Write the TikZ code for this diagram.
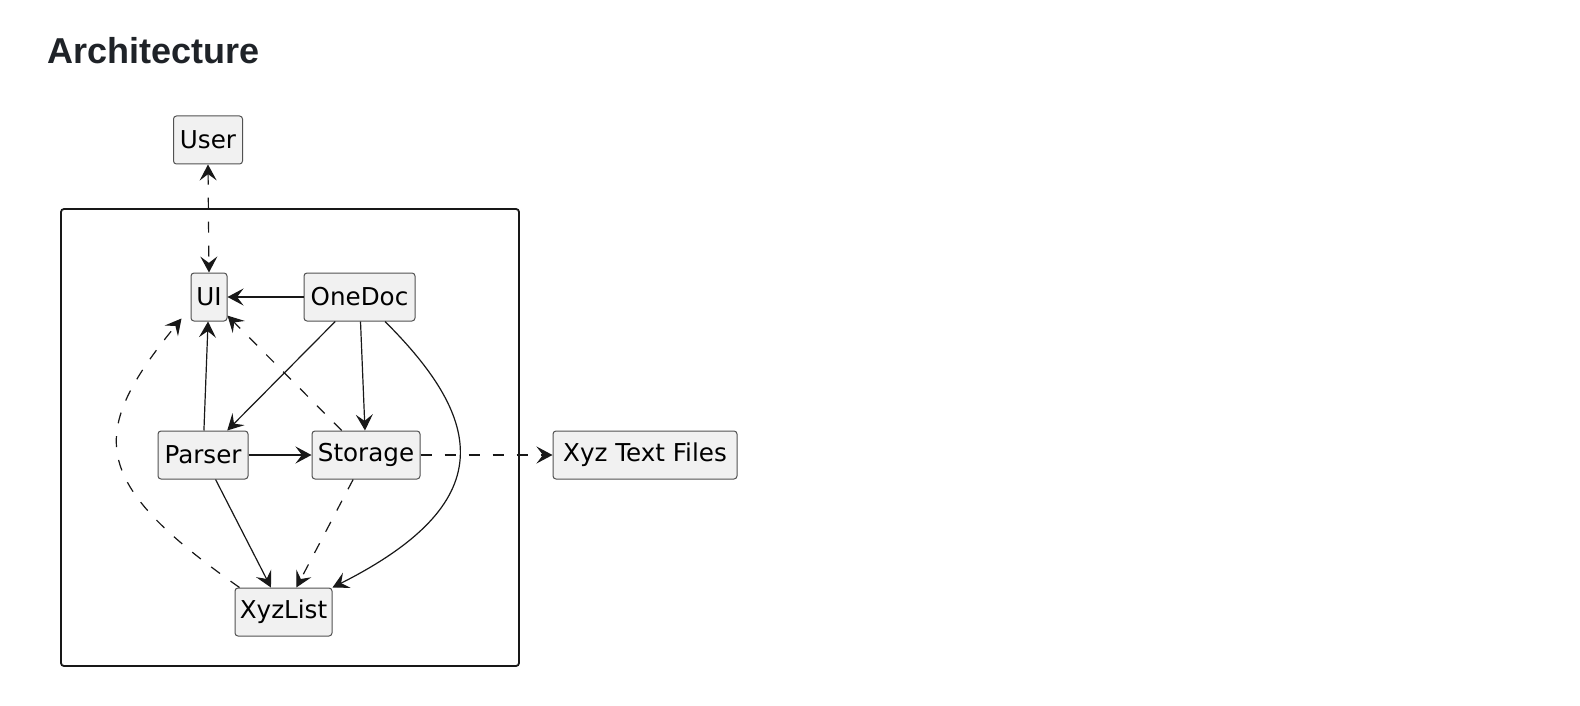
\documentclass[tikz,border=0pt]{standalone}
\usepackage{fontspec}
\setmainfont{Liberation Sans}
\newfontfamily\boxfont{DejaVu Sans}
\usepackage{xcolor}
\usepackage{tikz}
\usetikzlibrary{arrows.meta,positioning,calc}

\definecolor{boxgray}{HTML}{F1F1F1}
\definecolor{linegray}{HTML}{181818}
\definecolor{titleink}{HTML}{1F2328}

\begin{document}
\begin{tikzpicture}[
    x=0.5pt, y=-0.5pt,
    every node/.style = {inner sep=0pt},
    box/.style = {draw=linegray!75, fill=boxgray, line width=0.5pt, rounded corners=1.5pt,
      minimum height=24pt, font=\boxfont\fontsize{12.3pt}{14pt}\selectfont},
    >={Stealth[length=8pt, width=8.5pt, inset=3.2pt]},
    dep/.style = {->, draw=linegray, line width=0.6pt},
    weak/.style = {dep, dash pattern=on 5.5pt off 6.5pt}
  ]
  \fill[white] (0,0) rectangle (1580,706);
  \useasboundingbox (0,0) rectangle (1580,706);

  % title
  \node[anchor=base west, text=titleink, font=\bfseries\fontsize{18pt}{22pt}\selectfont]
    (title) at (47,64) {Architecture};

  % frame
  \draw[linegray, line width=0.9pt, rounded corners=1.5pt] (61,209) rectangle (519,666);

  % components
  \node[box, minimum width=34.5pt] (user) at (208,140) {User};
  \node[box, minimum width=18pt] (ui) at (209,297) {UI};
  \node[box, minimum width=55.5pt] (onedoc) at (359.5,297) {OneDoc};
  \node[box, minimum width=45pt] (parser) at (203,455) {Parser};
  \node[box, minimum width=54pt] (storage) at (366,455) {Storage};
  \node[box, minimum width=48.5pt] (xyzlist) at (283.5,612) {XyzList};
  \node[box, minimum width=92pt] (files) at (645,455) {Xyz Text Files};

  % solid dependencies
  \draw[dep] (onedoc) -- (ui);
  \draw[dep] (onedoc) -- (parser);
  \draw[dep] (onedoc) -- (storage);
  \draw[dep] (parser) -- (ui);
  \draw[dep] (parser) -- (storage);
  \draw[dep] (parser) -- (xyzlist);
  \draw[dep] ($(onedoc.south)+(25.5,0)$) .. controls (485,421) and (500,503) .. (xyzlist.north east);

  % dashed dependencies
  \draw[weak, <->] (user.south) -- (ui.north);
  \draw[weak] (storage) -- (ui);
  \draw[weak] (storage) -- (xyzlist);
  \draw[weak] (storage) -- (files);
  \draw[weak] ($(xyzlist.north west)+(5,0)$) .. controls (88,481) and (88,433) .. ($(ui.south west)+(-9,-3)$);
\end{tikzpicture}
\end{document}
